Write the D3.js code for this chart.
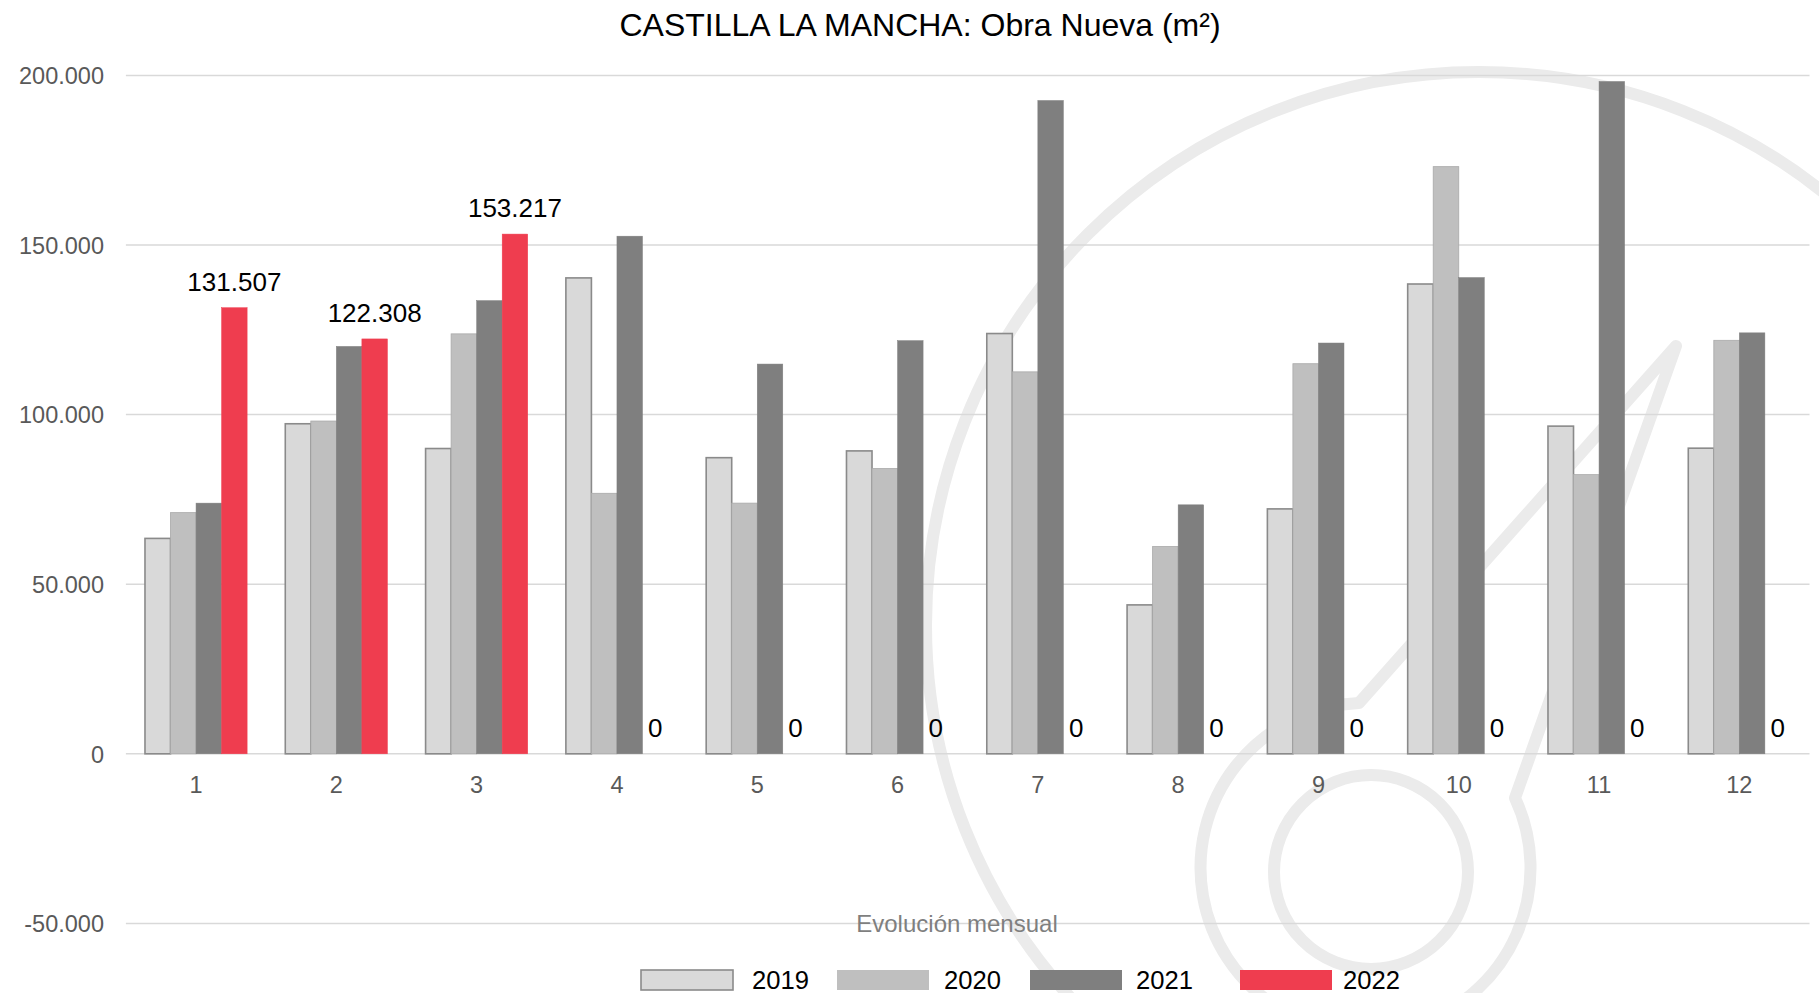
<!DOCTYPE html>
<html>
<head>
<meta charset="utf-8">
<script src="https://cdn.jsdelivr.net/npm/d3@7"></script>
<style>
  html, body { margin: 0; padding: 0; background: #ffffff; }
  svg { display: block; font-family: "Liberation Sans", Arial, sans-serif; }
</style>
</head>
<body>
<svg id="chart" width="1819" height="993"></svg>
<script>
// ---- data ----
const months = ["1","2","3","4","5","6","7","8","9","10","11","12"];
const seriesNames = ["2019","2020","2021","2022"];
const v2019 = [63500, 97300, 90000, 140300, 87300, 89300, 123900, 43900, 72200, 138500, 96600, 90100];
const v2020 = [71100, 98100, 123800, 76800, 73900, 84100, 112600, 61100, 115000, 173100, 82300, 121900];
const v2021 = [73900, 120100, 133600, 152600, 114900, 121800, 192600, 73400, 121100, 140400, 198200, 124100];
const v2022 = [131507, 122308, 153217, 0, 0, 0, 0, 0, 0, 0, 0, 0];
const yTicks = [-50000, 0, 50000, 100000, 150000, 200000];
const titleText = "CASTILLA LA MANCHA: Obra Nueva (m²)";
const axisTitle = "Evolución mensual";

const seriesValues = [v2019, v2020, v2021, v2022];
const fills = ["#d9d9d9", "#bfbfbf", "#7f7f7f", "#ef3d4f"];
const strokes = ["#8a8a8a", "#a9a9a9", "#7f7f7f", "#ef3d4f"];
const strokeW = [1.6, 0.8, 0.5, 0.5];

const svg = d3.select("#chart");
const plotL = 125.9, plotR = 1809.5, plotTop = 75.4, plotBot = 923.4;

const locale = d3.formatLocale({decimal: ",", thousands: ".", grouping: [3], currency: ["", "€"], minus: "-"});
const fmt = locale.format(",d");

const x = d3.scaleBand().domain(months).range([plotL, plotR]).padding(0);
const inner = d3.scaleBand().domain(seriesNames)
  .range([x.bandwidth() * 0.136, x.bandwidth() * 0.864]).padding(0);
const y = d3.scaleLinear().domain([-50000, 200000]).range([plotBot, plotTop]);

// ---- watermark ----
const wm = svg.append("g").attr("fill", "none").attr("stroke", "#ebebeb").attr("stroke-width", 12);
wm.append("circle").attr("cx", 1479).attr("cy", 625).attr("r", 553);
wm.append("circle").attr("cx", 1371).attr("cy", 872).attr("r", 97);
wm.append("path").attr("stroke-linejoin", "round")
  .attr("d", "M1359,703 L1676,346 L1515,798 A165,165 0 1 1 1359,703 Z");

// ---- gridlines ----
svg.append("g").selectAll("line").data(yTicks).join("line")
  .attr("x1", plotL).attr("x2", plotR)
  .attr("y1", d => y(d)).attr("y2", d => y(d))
  .attr("stroke", "#d9d9d9").attr("stroke-width", 1.5);

// ---- y axis labels ----
const yAxis = d3.axisLeft(y).tickValues(yTicks).tickFormat(d => fmt(d)).tickSize(0).tickPadding(0);
const yg = svg.append("g").attr("transform", "translate(104,0)").call(yAxis);
yg.select(".domain").remove();
yg.selectAll("text").attr("font-size", 23.5).attr("fill", "#595959")
  .attr("font-family", "Liberation Sans, Arial, sans-serif").attr("dy", "0.35em").attr("x", 0);

// ---- x axis labels ----
const xAxis = d3.axisBottom(x).tickSize(0).tickPadding(0);
const xg = svg.append("g").attr("transform", `translate(0,${y(0)})`).call(xAxis);
xg.select(".domain").remove();
xg.selectAll("text").attr("font-size", 23.5).attr("fill", "#595959")
  .attr("font-family", "Liberation Sans, Arial, sans-serif").attr("y", 39).attr("dy", 0);

// ---- bars ----
const rows = months.map((m, i) => ({m, vals: seriesValues.map((s, k) => ({k, name: seriesNames[k], v: s[i]}))}));
const groups = svg.append("g").selectAll("g").data(rows).join("g")
  .attr("transform", d => `translate(${x(d.m)},0)`);
groups.selectAll("rect").data(d => d.vals.filter(o => o.v > 0)).join("rect")
  .attr("x", o => inner(o.name))
  .attr("width", inner.bandwidth())
  .attr("y", o => y(o.v))
  .attr("height", o => y(0) - y(o.v))
  .attr("fill", o => fills[o.k])
  .attr("stroke", o => strokes[o.k])
  .attr("stroke-width", o => strokeW[o.k]);

// ---- data labels for 2022 ----
groups.append("text")
  .attr("x", d => inner("2022") + inner.bandwidth() / 2)
  .attr("y", (d, i) => y(v2022[i]) - 17)
  .attr("text-anchor", "middle")
  .attr("font-size", 26).attr("fill", "#000")
  .text((d, i) => fmt(v2022[i]));

// ---- title ----
svg.append("text").attr("x", 920).attr("y", 36).attr("text-anchor", "middle")
  .attr("font-size", 32).attr("fill", "#000").text(titleText);

// ---- axis title ----
svg.append("text").attr("x", 957).attr("y", 932).attr("text-anchor", "middle")
  .attr("font-size", 24).attr("fill", "#7f7f7f").text(axisTitle);

// ---- legend ----
const legendX = [641, 837, 1030, 1240];
const legendTextX = [752, 944, 1136, 1343];
const lg = svg.append("g").selectAll("g").data(seriesNames).join("g");
lg.append("rect").attr("x", (d, i) => legendX[i]).attr("y", 970).attr("width", 92).attr("height", 20)
  .attr("fill", (d, i) => fills[i]).attr("stroke", (d, i) => i === 0 ? strokes[0] : "none")
  .attr("stroke-width", 1.6);
lg.append("text").attr("x", (d, i) => legendTextX[i]).attr("y", 989.3)
  .attr("font-size", 25.6).attr("fill", "#000").text(d => d);
</script>
</body>
</html>
